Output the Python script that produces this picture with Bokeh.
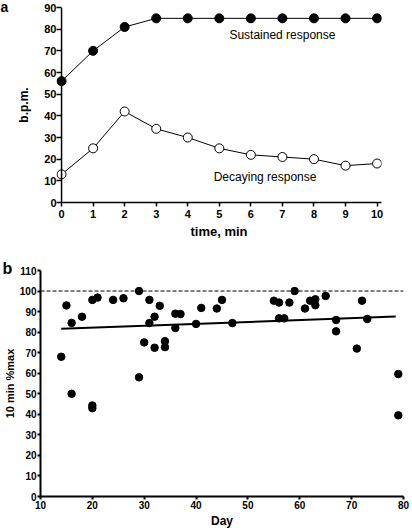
from bokeh.plotting import figure
from bokeh.layouts import column
from bokeh.models import Range1d, FixedTicker, Label, Span
from bokeh.embed import file_html
from bokeh.resources import INLINE

FONT = "Liberation Sans"

# ---- panel a data ----
time_min = [0, 1, 2, 3, 4, 5, 6, 7, 8, 9, 10]
sustained = [56, 70, 81, 85, 85, 85, 85, 85, 85, 85, 85]
decaying = [13, 25, 42, 34, 30, 25, 22, 21, 20, 17, 18]
top_xticks = [0, 1, 2, 3, 4, 5, 6, 7, 8, 9, 10]
top_yticks = [0, 10, 20, 30, 40, 50, 60, 70, 80, 90]

# ---- panel b data ----
day = [14, 15, 16, 16, 18, 20, 20, 20, 21, 24, 26, 29, 29, 30, 31, 31, 32, 32,
       33, 34, 34, 36, 36, 37, 40, 41, 44, 45, 47, 55, 56, 56, 57, 58, 59, 61,
       62, 63, 63, 65, 67, 67, 71, 72, 73, 79, 79]
pct_max = [68, 93, 84.5, 50, 87.5, 95.7, 44.3, 43, 96.8, 95.7, 96.5, 100, 58,
           75, 95.7, 84.4, 87.5, 72.4, 92.8, 75.6, 72.7, 89, 82, 88.8, 84, 91.8,
           91.5, 95.7, 84.4, 95.3, 94.4, 86.7, 86.7, 94.4, 100, 91.5, 95.3, 96,
           93.1, 97.6, 85.9, 80.4, 72, 95.3, 86.4, 59.6, 39.5]
fit_day = [14, 78.5]
fit_pct = [81.6, 87.6]
ref_level = 100
bot_xticks = [10, 20, 30, 40, 50, 60, 70, 80]
bot_yticks = [0, 10, 20, 30, 40, 50, 60, 70, 80, 90, 100, 110]


def style_axes(p, lw, tick_out, tick_font, label_font):
    for ax in (p.xaxis[0], p.yaxis[0]):
        ax.axis_line_width = lw
        ax.axis_line_color = "black"
        ax.major_tick_line_width = lw
        ax.major_tick_line_color = "black"
        ax.major_tick_in = 0
        ax.major_tick_out = tick_out
        ax.minor_tick_line_color = None
        ax.major_label_text_font = FONT
        ax.major_label_text_font_style = "bold"
        ax.major_label_text_font_size = tick_font
        ax.major_label_text_color = "black"
        ax.axis_label_text_font = FONT
        ax.axis_label_text_font_style = "bold"
        ax.axis_label_text_font_size = label_font
        ax.axis_label_text_color = "black"
    p.grid.visible = False
    p.outline_line_color = None
    try:
        p.frame_align = False
    except Exception:
        pass


def style_title(p, size, offset, standoff):
    p.title.align = "left"
    p.title.offset = offset
    p.title.standoff = standoff
    p.title.text_font = FONT
    p.title.text_font_size = size
    p.title.text_font_style = "bold"
    p.title.text_color = "black"


# ---------------- panel a ----------------
# the frame starts 5 px left of time 0 so that the first markers are not cut;
# the y axis line itself is drawn at time 0 with a vertical span
p1 = figure(width=412, height=248, x_range=Range1d(-0.16, 10.14), y_range=Range1d(0, 90),
            output_backend="svg", toolbar_location=None, title="a",
            min_border_left=56, min_border_right=31, min_border_top=7, min_border_bottom=46,
            x_axis_label="time, min", y_axis_label="b.p.m.")
style_axes(p1, 1.5, 4, "11px", "12px")
style_title(p1, "14px", -56, -14)
p1.xaxis.ticker = FixedTicker(ticks=top_xticks)
p1.yaxis.ticker = FixedTicker(ticks=top_yticks)
p1.xaxis.bounds = (0, 10.14)
p1.xaxis.major_label_standoff = 3
p1.xaxis.axis_label_standoff = 3
p1.xaxis.axis_label_text_font_size = "13px"
p1.yaxis.axis_line_color = None
p1.yaxis.major_tick_in = 5
p1.yaxis.major_tick_out = 0
p1.yaxis.major_label_standoff = 0
p1.yaxis.axis_label_standoff = 10
p1.add_layout(Span(location=0, dimension="height", line_color="black", line_width=1.5))

p1.line(time_min, sustained, line_color="black", line_width=1)
p1.scatter(time_min, sustained, size=9, fill_color="black", line_color="black")
p1.line(time_min, decaying, line_color="black", line_width=1)
p1.scatter(time_min, decaying, size=9, fill_color="white", line_color="black", line_width=1)

p1.add_layout(Label(x=7, y=77.5, text="Sustained response", text_align="center",
                    text_baseline="middle", text_font=FONT, text_font_size="12px",
                    text_color="black"))
p1.add_layout(Label(x=6.45, y=12, text="Decaying response", text_align="center",
                    text_baseline="middle", text_font=FONT, text_font_size="12px",
                    text_color="black"))

# ---------------- panel b ----------------
p2 = figure(width=412, height=282, x_range=Range1d(10, 80), y_range=Range1d(0, 110),
            output_backend="svg", toolbar_location=None, title="b",
            min_border_left=38, min_border_right=9, min_border_top=22, min_border_bottom=32,
            x_axis_label="Day", y_axis_label="10 min %max")
style_axes(p2, 2, 3, "10px", "11px")
style_title(p2, "16px", -38, -12)
p2.xaxis.ticker = FixedTicker(ticks=bot_xticks)
p2.yaxis.ticker = FixedTicker(ticks=bot_yticks)
p2.xaxis.axis_label_text_font_size = "12px"
p2.xaxis.major_label_standoff = 1
p2.xaxis.axis_label_standoff = 2
p2.yaxis.major_label_standoff = 1
p2.yaxis.axis_label_standoff = 1

p2.add_layout(Span(location=ref_level, dimension="width", line_color="black",
                   line_width=1, line_dash="4 2"))
p2.line(fit_day, fit_pct, line_color="black", line_width=2)
p2.scatter(day, pct_max, size=7.5, fill_color="black", line_color="black")

layout = column(p1, p2)
open("out.html", "w").write(file_html(layout, INLINE))
